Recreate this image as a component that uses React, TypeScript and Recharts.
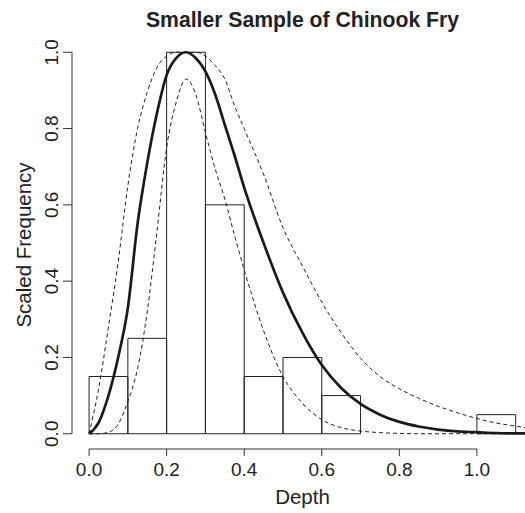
import React from "react";
import {
  LineChart,
  Line,
  XAxis,
  YAxis,
  ReferenceArea,
  ReferenceLine,
} from "recharts";

// Histogram bins (Depth) and scaled frequencies
const binStart = [0.0, 0.1, 0.2, 0.3, 0.4, 0.5, 0.6, 1.0];
const binEnd = [0.1, 0.2, 0.3, 0.4, 0.5, 0.6, 0.7, 1.1];
const binHeight = [0.15, 0.25, 1.0, 0.6, 0.15, 0.2, 0.1, 0.05];

// Curve sample depths
const depth = [
  0, 0.025, 0.05, 0.075, 0.1, 0.125, 0.15, 0.175, 0.2, 0.225, 0.25, 0.275,
  0.3, 0.325, 0.35, 0.375, 0.4, 0.45, 0.5, 0.55, 0.6, 0.65, 0.7, 0.75, 0.8,
  0.85, 0.9, 0.95, 1.0, 1.05, 1.1, 1.124,
];
// Fitted curve (thick solid)
const fitted = [
  0, 0.03, 0.1, 0.2, 0.33, 0.55, 0.71, 0.84, 0.94, 0.985, 1.0, 0.985, 0.95,
  0.89, 0.81, 0.73, 0.645, 0.5, 0.37, 0.265, 0.18, 0.12, 0.078, 0.05, 0.031,
  0.019, 0.011, 0.006, 0.004, 0.002, 0.001, 0.001,
];
// Upper band (dashed)
const upper = [
  0, 0.12, 0.28, 0.45, 0.65, 0.8, 0.895, 0.96, 0.99, 1.0, 1.0, 1.0, 0.99,
  0.965, 0.93, 0.86, 0.8, 0.68, 0.54, 0.44, 0.345, 0.265, 0.198, 0.15, 0.118,
  0.093, 0.072, 0.055, 0.04, 0.028, 0.02, 0.016,
];
// Lower band (dashed)
const lower = [
  0, 0, 0.004, 0.025, 0.085, 0.17, 0.32, 0.53, 0.75, 0.87, 0.93, 0.89, 0.79,
  0.695, 0.615, 0.52, 0.43, 0.27, 0.15, 0.08, 0.037, 0.016, 0.007, 0.003,
  0.001, 0, 0, 0, 0, 0, 0, 0,
];

const xTicks = [0, 0.2, 0.4, 0.6, 0.8, 1.0];
const yTicks = [0, 0.2, 0.4, 0.6, 0.8, 1.0];

const curveData = depth.map((x, i) => ({
  x,
  fitted: fitted[i],
  upper: upper[i],
  lower: lower[i],
}));

const FONT = "'Liberation Sans', Arial, Helvetica, sans-serif";
const AXIS_COLOR = "#333";
const TICK_FONT = 19;
const LAB_FONT = 20.5;

const YTick = (props: any) => {
  const { x, y, payload } = props;
  return (
    <text
      x={x}
      y={y}
      transform={`rotate(-90, ${x}, ${y})`}
      textAnchor="middle"
      fontSize={TICK_FONT}
      fontFamily={FONT}
      fill="#222"
    >
      {payload.value.toFixed(1)}
    </text>
  );
};

export default function App() {
  return (
    <div style={{ position: "absolute", left: 0, top: 0 }}>
      <LineChart
        width={525}
        height={513}
        data={curveData}
        margin={{ top: 37, right: 0, bottom: 0, left: 0 }}
      >
        <XAxis
          type="number"
          dataKey="x"
          domain={[-0.044, 1.124]}
          allowDataOverflow
          ticks={xTicks}
          tickFormatter={(v: number) => v.toFixed(1)}
          axisLine={false}
          tickLine={{ stroke: AXIS_COLOR, strokeWidth: 1 }}
          tickSize={7}
          tickMargin={7}
          height={64}
          tick={{ fontSize: TICK_FONT, fontFamily: FONT, fill: "#222" }}
        />
        <YAxis
          type="number"
          domain={[-0.04, 1.04]}
          allowDataOverflow
          ticks={yTicks}
          axisLine={false}
          tickLine={{ stroke: AXIS_COLOR, strokeWidth: 1 }}
          tickSize={9}
          tickMargin={5}
          width={72}
          tick={<YTick />}
        />
        <ReferenceLine
          segment={[
            { x: 0, y: -0.04 },
            { x: 1, y: -0.04 },
          ]}
          stroke={AXIS_COLOR}
          strokeWidth={1}
          ifOverflow="visible"
        />
        <ReferenceLine
          segment={[
            { x: -0.044, y: 0 },
            { x: -0.044, y: 1 },
          ]}
          stroke={AXIS_COLOR}
          strokeWidth={1}
          ifOverflow="visible"
        />
        {binStart.map((s, i) => (
          <ReferenceArea
            key={i}
            x1={s}
            x2={binEnd[i]}
            y1={0}
            y2={binHeight[i]}
            fill="none"
            fillOpacity={0}
            stroke="#222"
            strokeWidth={1}
            ifOverflow="visible"
          />
        ))}
        <Line
          type="monotone"
          dataKey="upper"
          stroke="#222"
          strokeWidth={1}
          strokeDasharray="4 3"
          dot={false}
          isAnimationActive={false}
        />
        <Line
          type="monotone"
          dataKey="lower"
          stroke="#222"
          strokeWidth={1}
          strokeDasharray="4 3"
          dot={false}
          isAnimationActive={false}
        />
        <Line
          type="monotone"
          dataKey="fitted"
          stroke="#1a1a1a"
          strokeWidth={2.7}
          dot={false}
          isAnimationActive={false}
        />
        <text
          x={302.5}
          y={27}
          textAnchor="middle"
          fontSize={21.2}
          fontWeight="bold"
          fontFamily={FONT}
          fill="#222"
        >
          Smaller Sample of Chinook Fry
        </text>
        <text
          x={302.5}
          y={504}
          textAnchor="middle"
          fontSize={LAB_FONT}
          fontFamily={FONT}
          fill="#222"
        >
          Depth
        </text>
        <text
          x={31}
          y={245}
          transform="rotate(-90, 31, 245)"
          textAnchor="middle"
          fontSize={LAB_FONT}
          fontFamily={FONT}
          fill="#222"
        >
          Scaled Frequency
        </text>
      </LineChart>
    </div>
  );
}
